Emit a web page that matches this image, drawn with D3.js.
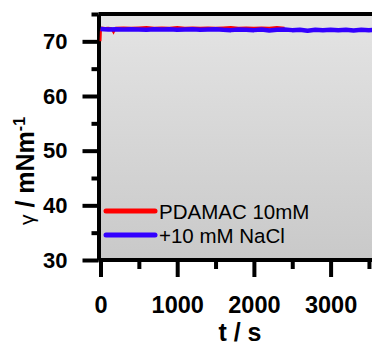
<!DOCTYPE html>
<html lang="en">
<head>
    <meta charset="UTF-8">
    <title>Surface tension vs time</title>
    <script src="https://cdn.jsdelivr.net/npm/d3@7"></script>
    <style>
        body { margin: 0; background: #fff; }
        svg { display: block; font-family: "Liberation Sans", Arial, sans-serif; }
        .axis path, .axis line { stroke: #000; stroke-width: 4; }
        .axis text { font-weight: bold; fill: #000; }
    </style>
</head>
<body>
<script>
    // data
    const seriesNames = ["PDAMAC 10mM", "+10 mM NaCl"];
    const seriesColors = ["#ff0000", "#3300ff"];

    const redT = [0, 5, 20, 60, 100, 140, 170, 200, 300, 400, 500, 600, 700, 800, 900, 1000, 1100, 1200,
                  1300, 1400, 1500, 1600, 1700, 1800, 1900, 2000, 2100, 2200, 2300, 2400];
    const redV = [70.0, 71.8, 72.5, 72.45, 72.5, 72.4, 71.6, 72.5, 72.55, 72.5, 72.55, 72.6, 72.5, 72.55, 72.5, 72.6,
                  72.5, 72.55, 72.5, 72.55, 72.5, 72.55, 72.6, 72.5, 72.55, 72.5, 72.55, 72.5, 72.6, 72.5];

    const blueT = [0, 100, 200, 300, 400, 500, 600, 700, 800, 900, 1000, 1100, 1200, 1300, 1400, 1500,
                   1600, 1700, 1800, 1900, 2000, 2100, 2200, 2300, 2400, 2500, 2600, 2700, 2800, 2900,
                   3000, 3100, 3200, 3300, 3400, 3500, 3600];
    const blueV = [72.25, 72.15, 72.2, 72.18, 72.2, 72.15, 72.1, 72.2, 72.15, 72.2, 72.1, 72.15, 72.2, 72.1,
                   72.15, 72.2, 72.1, 72.05, 72.15, 72.1, 72.05, 72.15, 72.0, 72.1, 72.15, 72.05, 72.1, 71.95,
                   72.1, 72.05, 72.1, 72.05, 72.1, 72.0, 72.1, 72.05, 72.1];

    const xTicks = [0, 1000, 2000, 3000];
    const xMinor = [500, 1500, 2500, 3500];
    const yTicks = [30, 40, 50, 60, 70];
    const yMinor = [35, 45, 55, 65, 75];

    const width = 372, height = 345;
    const padLeft = 98.5, padBottom = 260, padTop = 14;

    const svg = d3.select("body").append("svg")
        .attr("width", width)
        .attr("height", height);

    const x = d3.scaleLinear().domain([0, 3600]).range([100.5, 100.5 + 3600 * 0.0767]);
    const y = d3.scaleLinear().domain([30, 75]).range([padBottom, padTop]);

    // gray gradient background of the plot
    const grad = svg.append("defs").append("linearGradient")
        .attr("id", "bg").attr("x1", 0).attr("y1", 0).attr("x2", 0).attr("y2", 1);
    grad.append("stop").attr("offset", "0%").attr("stop-color", "#e4e4e4");
    grad.append("stop").attr("offset", "100%").attr("stop-color", "#c9c9c9");

    svg.append("rect")
        .attr("x", padLeft).attr("y", padTop)
        .attr("width", width - padLeft).attr("height", padBottom - padTop)
        .attr("fill", "url(#bg)");

    // y axis (drawn before the data so the red start stays visible)
    const yAxis = svg.append("g").attr("class", "axis")
        .attr("transform", `translate(${padLeft},0)`)
        .call(d3.axisLeft(y).tickValues(yTicks).tickSize(16).tickSizeOuter(0).tickPadding(15));
    yAxis.selectAll("text").style("font-size", "22px");
    svg.append("g").attr("class", "axis")
        .attr("transform", `translate(${padLeft},0)`)
        .call(d3.axisLeft(y).tickValues(yMinor).tickSize(7).tickFormat(""))
        .select(".domain").remove();

    // data lines
    const line = d3.line().x(d => x(d[0])).y(d => y(d[1]));
    svg.append("path")
        .datum(redT.map((t, i) => [t, redV[i]]))
        .attr("fill", "none")
        .attr("stroke", seriesColors[0])
        .attr("stroke-width", 2)
        .attr("d", line);
    svg.append("path")
        .datum(blueT.map((t, i) => [t, blueV[i]]))
        .attr("fill", "none")
        .attr("stroke", seriesColors[1])
        .attr("stroke-width", 4.5)
        .attr("stroke-linejoin", "round")
        .attr("d", line);

    // top frame line
    svg.append("line")
        .attr("x1", padLeft).attr("x2", width)
        .attr("y1", y(75)).attr("y2", y(75))
        .attr("stroke", "#000").attr("stroke-width", 4);

    // x axis
    const xAxis = svg.append("g").attr("class", "axis")
        .attr("transform", `translate(0,${padBottom})`)
        .call(d3.axisBottom(x).tickValues(xTicks).tickFormat(d3.format("d"))
            .tickSize(17).tickSizeOuter(0).tickPadding(19));
    xAxis.select(".domain").attr("d", `M${padLeft},0H${width}`);
    xAxis.selectAll("text").style("font-size", "23.5px");
    svg.append("g").attr("class", "axis")
        .attr("transform", `translate(0,${padBottom})`)
        .call(d3.axisBottom(x).tickValues(xMinor).tickSize(9).tickFormat(""))
        .select(".domain").remove();

    // axis titles
    svg.append("text")
        .attr("x", 240).attr("y", 341)
        .attr("text-anchor", "middle")
        .style("font-size", "25px").style("font-weight", "bold")
        .text("t / s");

    const yt = svg.append("text")
        .attr("transform", "translate(34,171) rotate(-90)")
        .attr("text-anchor", "middle")
        .style("font-size", "25px").style("font-weight", "bold");
    yt.append("tspan").style("font-weight", "normal").style("font-size", "21px").text("γ");
    yt.append("tspan").text(" / mNm");
    yt.append("tspan").attr("dy", -9).style("font-size", "16px").text("-1");

    // legend
    const legendY = [211, 235];
    seriesNames.forEach((name, i) => {
        svg.append("line")
            .attr("x1", 106).attr("x2", 155)
            .attr("y1", legendY[i]).attr("y2", legendY[i])
            .attr("stroke", seriesColors[i]).attr("stroke-width", 5)
            .attr("stroke-linecap", "round");
        svg.append("text")
            .attr("x", 159).attr("y", legendY[i] + 7.5)
            .style("font-size", "20.5px")
            .text(name);
    });
</script>
</body>
</html>
